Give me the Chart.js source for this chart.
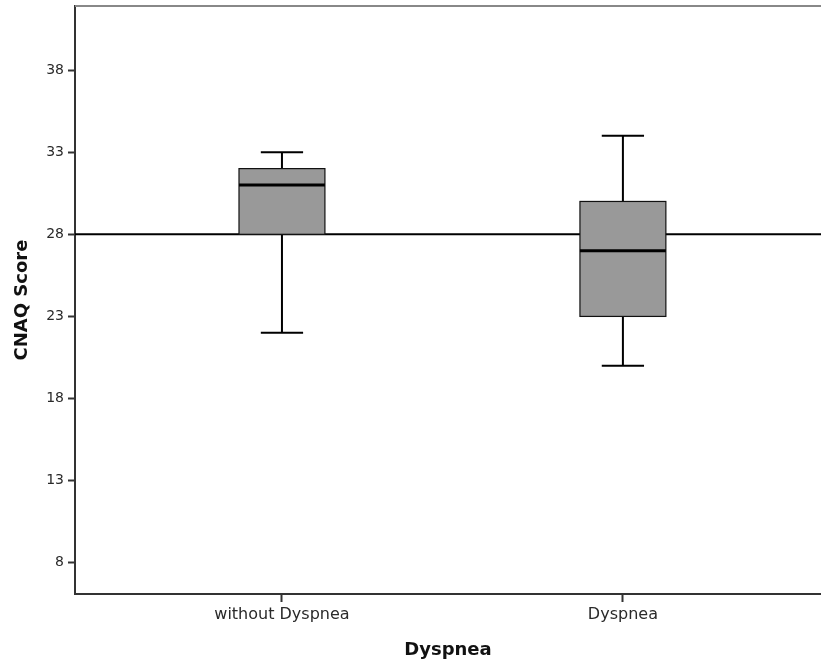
<!DOCTYPE html>
<html>
<head>
<meta charset="utf-8">
<script src="https://cdn.jsdelivr.net/npm/chart.js@4.4.1/dist/chart.umd.min.js"></script>
<style>
  html, body { margin: 0; padding: 0; background: #fff; }
  #wrap { width: 821px; height: 668px; }
</style>
</head>
<body>
<div id="wrap"><canvas id="boxChart"></canvas></div>
<script>
// data
const categories = ['without Dyspnea', 'Dyspnea'];
const whiskerLow = [22, 20];
const quart1 = [28, 23];
const medians = [31, 27];
const quart3 = [32, 30];
const whiskerHigh = [33, 34];
const refLine = 28;
const yTicks = [8, 13, 18, 23, 28, 33, 38];

const xMin = -0.607, xMax = 1.581;

// draws the boxes on top of the reference line
const boxPlot = {
  id: 'boxPlot',
  afterDatasetsDraw(chart) {
    const { ctx, scales: { x, y }, chartArea } = chart;
    ctx.save();
    categories.forEach((c, i) => {
      const xc = x.getPixelForValue(i);
      const half = x.getPixelForValue(i + 0.126) - xc;
      const cap = x.getPixelForValue(i + 0.062) - xc;
      const yLo = y.getPixelForValue(whiskerLow[i]);
      const yQ1 = y.getPixelForValue(quart1[i]);
      const yMed = y.getPixelForValue(medians[i]);
      const yQ3 = y.getPixelForValue(quart3[i]);
      const yHi = y.getPixelForValue(whiskerHigh[i]);

      ctx.strokeStyle = '#000';
      ctx.lineWidth = 2;
      ctx.beginPath();
      ctx.moveTo(xc, yHi); ctx.lineTo(xc, yQ3);
      ctx.moveTo(xc, yQ1); ctx.lineTo(xc, yLo);
      ctx.moveTo(xc - cap, yHi); ctx.lineTo(xc + cap, yHi);
      ctx.moveTo(xc - cap, yLo); ctx.lineTo(xc + cap, yLo);
      ctx.stroke();

      ctx.fillStyle = '#999999';
      ctx.fillRect(xc - half, yQ3, half * 2, yQ1 - yQ3);
      ctx.lineWidth = 1.2;
      ctx.strokeStyle = '#111';
      ctx.strokeRect(xc - half, yQ3, half * 2, yQ1 - yQ3);

      ctx.lineWidth = 3;
      ctx.strokeStyle = '#000';
      ctx.beginPath();
      ctx.moveTo(xc - half, yMed); ctx.lineTo(xc + half, yMed);
      ctx.stroke();
    });
    // top frame line
    ctx.strokeStyle = '#888';
    ctx.lineWidth = 2;
    ctx.beginPath();
    ctx.moveTo(chartArea.left, chartArea.top);
    ctx.lineTo(chartArea.right, chartArea.top);
    ctx.stroke();
    ctx.restore();
  }
};

new Chart(document.getElementById('boxChart'), {
  type: 'scatter',
  data: {
    datasets: [{
      data: [{ x: xMin, y: refLine }, { x: xMax, y: refLine }],
      showLine: true,
      borderColor: '#000',
      borderWidth: 2,
      pointRadius: 0
    }]
  },
  options: {
    responsive: true,
    maintainAspectRatio: false,
    animation: false,
    layout: { padding: { top: 0, right: 0, left: 0, bottom: 0 } },
    plugins: {
      legend: { display: false },
      tooltip: { enabled: false }
    },
    scales: {
      x: {
        type: 'linear',
        min: xMin,
        max: xMax,
        afterBuildTicks: (s) => { s.ticks = categories.map((c, i) => ({ value: i })); },
        afterFit: (s) => { s.height = 74; },
        border: { color: '#333', width: 2 },
        grid: { drawOnChartArea: false, tickLength: 8, color: '#333', tickWidth: 2 },
        ticks: {
          callback: (v) => categories[v],
          color: '#2a2a2a',
          padding: 3,
          font: { family: 'DejaVu Sans', size: 16 }
        },
        title: {
          display: true,
          text: 'Dyspnea',
          color: '#111',
          padding: { top: 0, bottom: 7 },
          font: { family: 'DejaVu Sans', size: 18, weight: 'bold' }
        }
      },
      y: {
        min: 6.1,
        max: 41.9,
        afterBuildTicks: (s) => { s.ticks = yTicks.map(v => ({ value: v })); },
        afterFit: (s) => { s.width = 75; s.paddingTop = 6; },
        border: { color: '#333', width: 2 },
        grid: { drawOnChartArea: false, tickLength: 7, color: '#333', tickWidth: 2 },
        ticks: {
          color: '#2a2a2a',
          padding: 4,
          font: { family: 'DejaVu Sans', size: 14 }
        },
        title: {
          display: true,
          text: 'CNAQ Score',
          color: '#111',
          padding: { top: 12, bottom: 0 },
          font: { family: 'DejaVu Sans', size: 18, weight: 'bold' }
        }
      }
    }
  },
  plugins: [boxPlot]
});
</script>
</body>
</html>
